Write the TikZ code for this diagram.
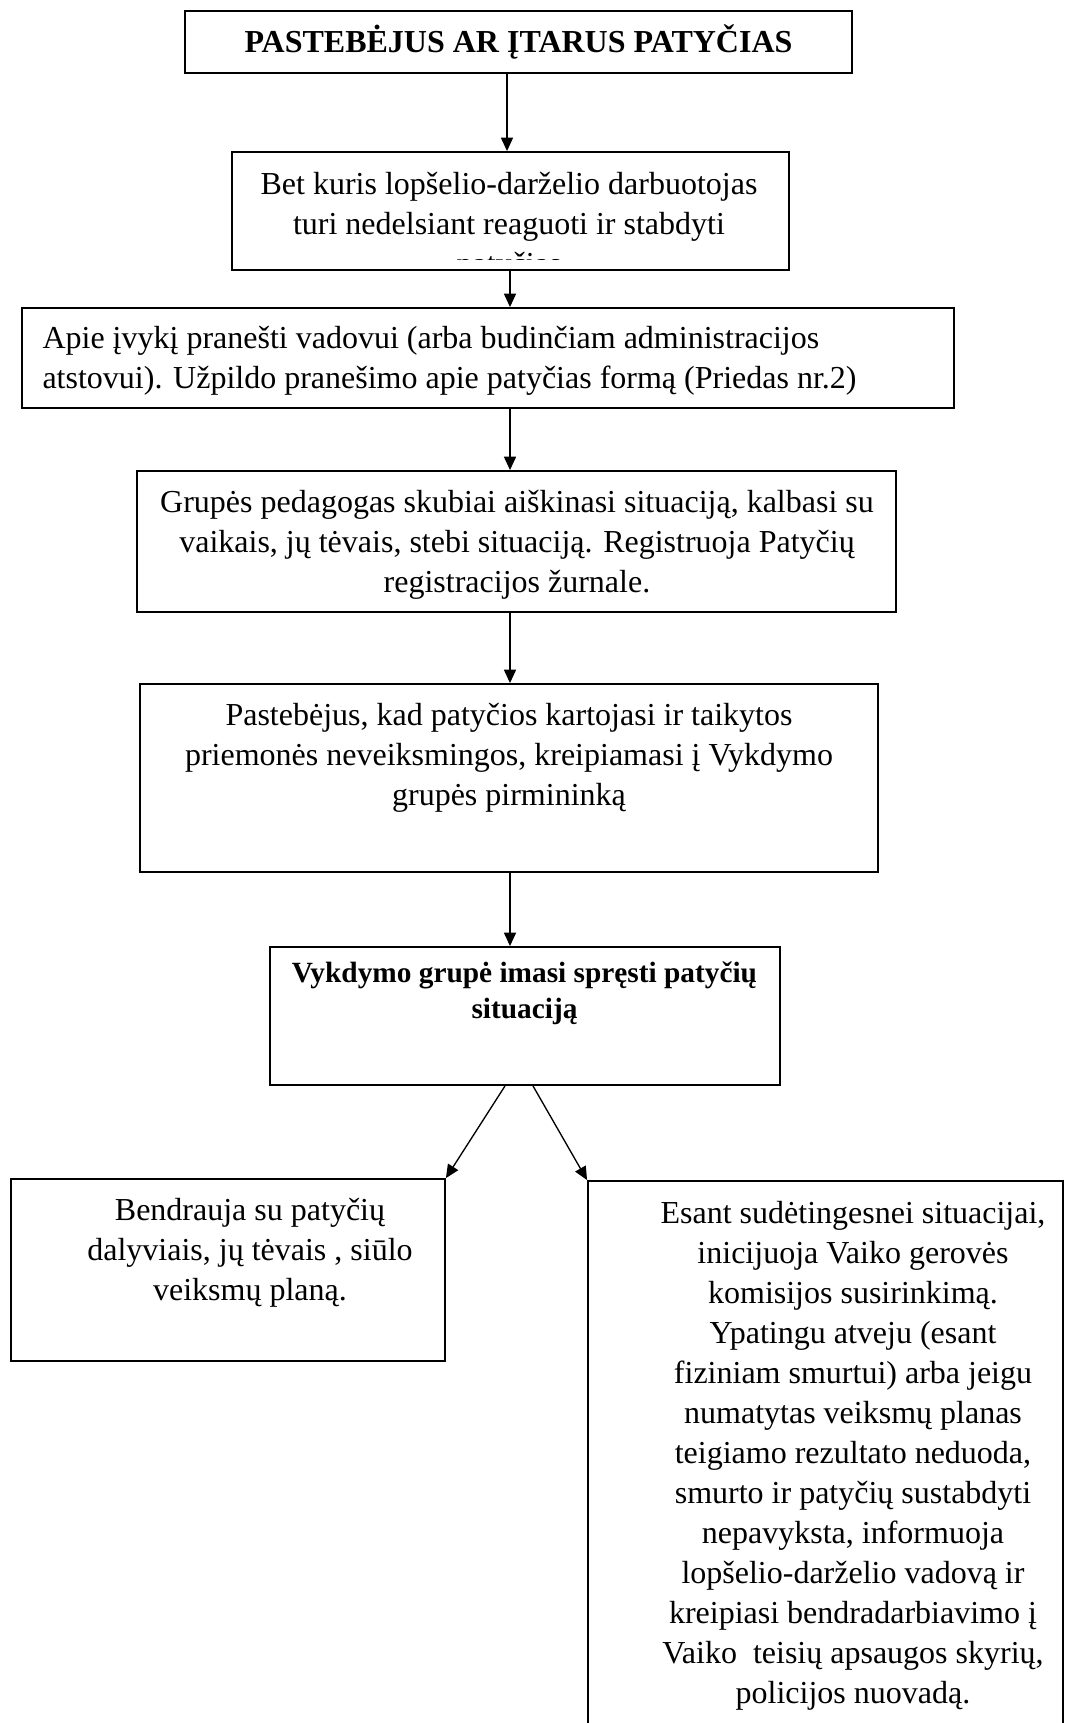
\documentclass[tikz,border=0pt]{standalone}
\usepackage{fontspec}
\setmainfont{Liberation Serif}
\usetikzlibrary{arrows.meta,positioning}
\newlength{\px}
\setlength{\px}{0.375pt}

\begin{document}
\begin{tikzpicture}[x=0.375pt, y=-0.375pt,
  frame/.style={draw, line width=0.7pt, inner sep=0pt},
  txt/.style={inner sep=0pt, align=center, font=\fontsize{12}{15}\selectfont},
  arr/.style={line width=0.5pt, -{Triangle[length=5pt,width=4.5pt]}}]
\useasboundingbox (0,0) rectangle (1065,1723);
\clip (0,0) rectangle (1065,1723);
\coordinate (spine) at (510,0);
% Title
\node[frame, minimum width=667\px, minimum height=62\px, font=\fontsize{12}{15}\selectfont\bfseries] (start) at (518.5,42) {PASTEBĖJUS AR ĮTARUS PATYČIAS};
% Steps
\node[frame, minimum width=557\px, minimum height=118\px] (react) at (510.5,211) {};
\begin{scope}
\clip (react.north west) rectangle ([yshift=11\px]react.south east);
\node[txt] (reacttxt) at (509,227) {Bet kuris lopšelio-darželio darbuotojas\\turi nedelsiant reaguoti ir stabdyti\\patyčias};
\end{scope}
\node[frame, minimum width=932\px, minimum height=100\px] (report) at (488,358) {};
\node[txt, align=left, anchor=west] (reporttxt) at (42,361) {Apie įvykį pranešti vadovui (arba budinčiam administracijos\\atstovui). Užpildo pranešimo apie patyčias formą (Priedas nr.2)};
\node[frame, minimum width=759\px, minimum height=141\px] (teacher) at (516.5,541.5) {};
\node[txt] (teachertxt) at (517,544.5) {Grupės pedagogas skubiai aiškinasi situaciją, kalbasi su\\vaikais, jų tėvais, stebi situaciją. Registruoja Patyčių\\registracijos žurnale.};
\node[frame, minimum width=738\px, minimum height=188\px] (repeat) at (509,778) {};
\node[txt] (repeattxt) at (509,757.5) {Pastebėjus, kad patyčios kartojasi ir taikytos\\priemonės neveiksmingos, kreipiamasi į Vykdymo\\grupės pirmininką};
\node[frame, minimum width=510\px, minimum height=138\px] (solve) at (525,1016) {};
\node[txt, font=\fontsize{11}{13.6}\selectfont\bfseries] (solvetxt) at (524.5,993.5) {Vykdymo grupė imasi spręsti patyčių\\situaciją};
% Branches
\node[frame, minimum width=434\px, minimum height=182\px] (talk) at (228,1270) {};
\node[txt] (talktxt) at (250,1253) {Bendrauja su patyčių\\dalyviais, jų tėvais , siūlo\\veiksmų planą.};
\node[frame, minimum width=475\px, minimum height=579\px] (escalate) at (825.5,1470.5) {};
\node[txt] (escalatetxt) at (853,1456) {Esant sudėtingesnei situacijai,\\inicijuoja Vaiko gerovės\\komisijos susirinkimą.\\Ypatingu atveju (esant\\fiziniam smurtui) arba jeigu\\numatytas veiksmų planas\\teigiamo rezultato neduoda,\\smurto ir patyčių sustabdyti\\nepavyksta, informuoja\\lopšelio-darželio vadovą ir\\kreipiasi bendradarbiavimo į\\Vaiko\ \ teisių apsaugos skyrių,\\policijos nuovadą.};
% Arrows
\draw[arr] ([xshift=-3\px]start.south -| spine) -- ([xshift=-3\px]react.north -| spine);
\draw[arr] (react.south -| spine) -- (report.north -| spine);
\draw[arr] (report.south -| spine) -- (teacher.north -| spine);
\draw[arr] (teacher.south -| spine) -- (repeat.north -| spine);
\draw[arr] (repeat.south -| spine) -- (solve.north -| spine);
\draw[arr] ([xshift=-20\px]solve.south) -- (talk.north east);
\draw[arr] ([xshift=8\px]solve.south) -- (escalate.north west);
\end{tikzpicture}
\end{document}
